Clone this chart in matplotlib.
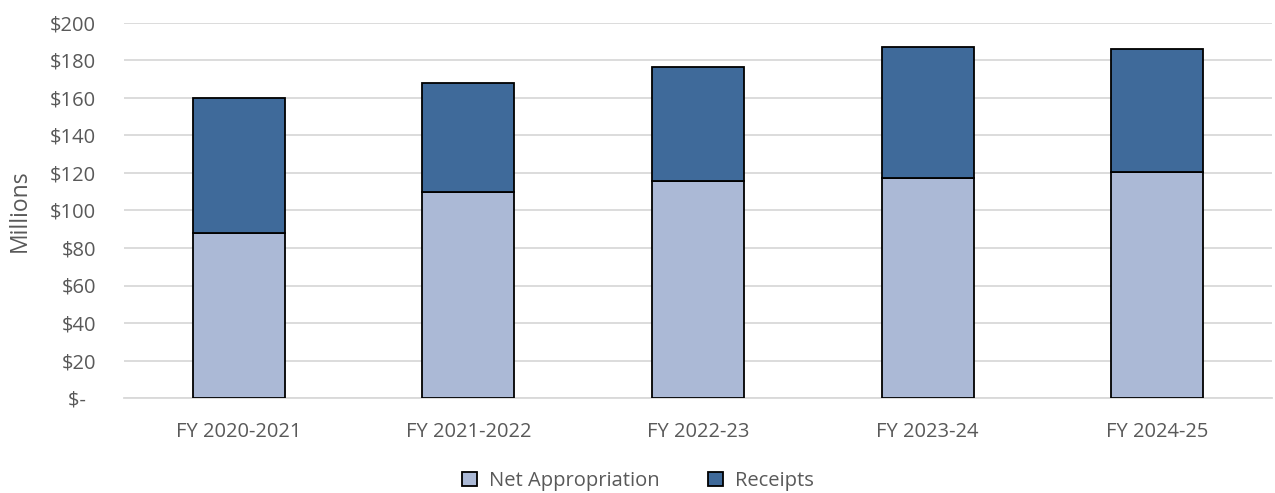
import matplotlib.pyplot as plt
import numpy as np

plt.rcParams['font.family'] = ['Open Sans', 'DejaVu Sans']

anos = ["FY 2020-2021", "FY 2021-2022", "FY 2022-23", "FY 2023-24", "FY 2024-25"]
apropriacao_liquida = [88, 110, 115.7, 117.2, 120.5]
receitas = [72, 57.8, 61, 69.8, 65.5]
marcas_y = [0, 20, 40, 60, 80, 100, 120, 140, 160, 180, 200]
rotulos_y = ["$-  ", "$20", "$40", "$60", "$80", "$100", "$120", "$140", "$160", "$180", "$200"]

cor_clara = "#abb9d6"
cor_escura = "#3f6a9a"
cor_texto = "#595959"

fig = plt.figure(figsize=(12.75, 4.93), dpi=100)
ax = fig.add_axes([124 / 1275, 1 - 398 / 493, 1148 / 1275, 375 / 493])

x = np.arange(len(anos))
ax.bar(x, apropriacao_liquida, width=0.4, color=cor_clara, edgecolor="black",
       linewidth=1.3, label="Net Appropriation", zorder=3)
ax.bar(x, receitas, width=0.4, bottom=apropriacao_liquida, color=cor_escura,
       edgecolor="black", linewidth=1.3, label="Receipts", zorder=3)

ax.set_xlim(-0.5, len(anos) - 0.5)
ax.set_ylim(0, 200)
ax.set_yticks(marcas_y)
ax.set_yticklabels(rotulos_y)
ax.set_xticks(x)
ax.set_xticklabels(anos)
ax.tick_params(axis="both", length=0, labelsize=14.5, colors=cor_texto)
ax.tick_params(axis="x", pad=17)
ax.tick_params(axis="y", pad=20)
ax.yaxis.grid(True, color="#d9d9d9", linewidth=1.3, zorder=0)
for lado in ["top", "right", "left"]:
    ax.spines[lado].set_visible(False)
ax.spines["bottom"].set_color("#d9d9d9")
ax.spines["bottom"].set_linewidth(1.3)
ax.set_ylabel("Millions", fontsize=16.5, color=cor_texto)
ax.yaxis.set_label_coords(-92 / 1148, 0.5)

leg = fig.legend(loc="center", bbox_to_anchor=(638 / 1275, 1 - 481 / 493), ncol=2,
                 frameon=False, fontsize=14.5, handlelength=0.75, handleheight=0.75,
                 columnspacing=2.4, handletextpad=0.6)
for t in leg.get_texts():
    t.set_color(cor_texto)

fig.savefig("out.png", dpi=100)
